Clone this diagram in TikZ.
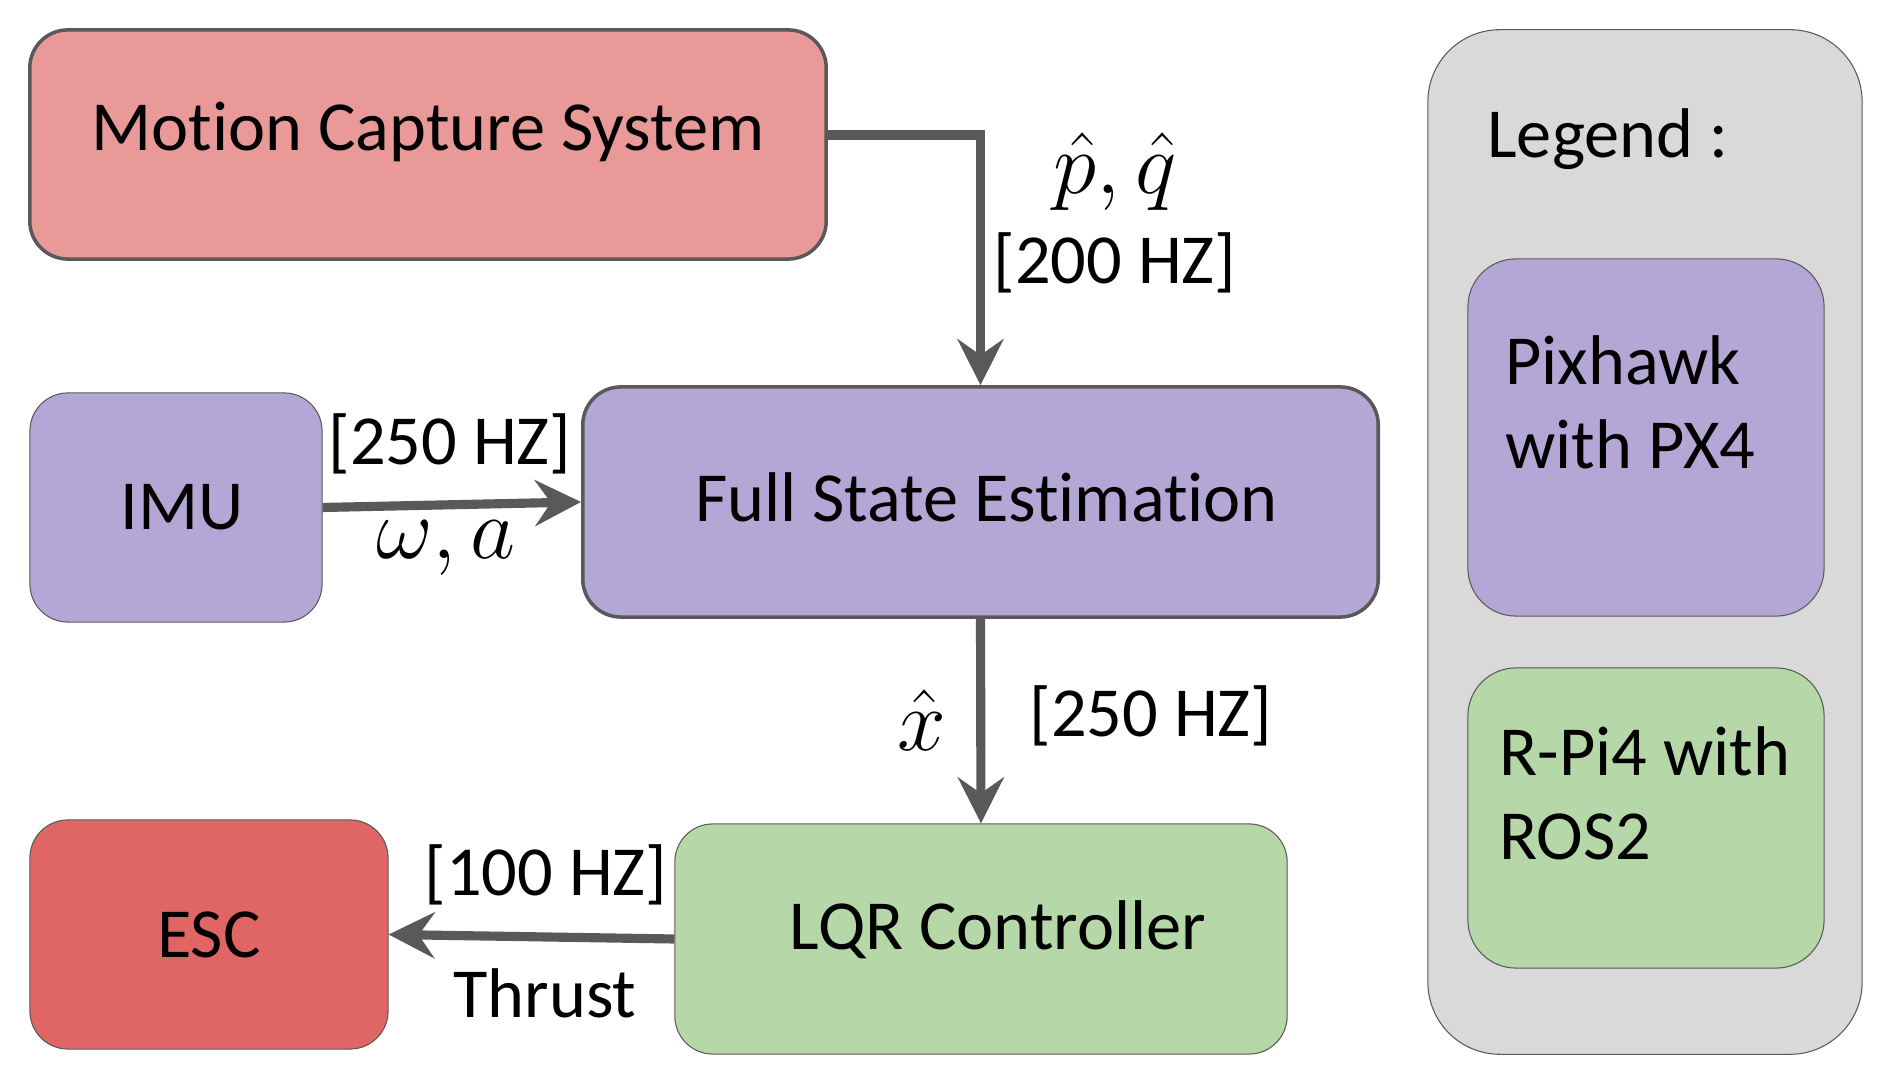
\documentclass[tikz,border=0pt]{standalone}
\usepackage{fontspec}
\setmainfont{Carlito}[Ligatures=NoCommon]
\usetikzlibrary{arrows.meta}
\definecolor{mocap}{HTML}{EA9999}
\definecolor{pixpurple}{HTML}{B4A7D6}
\definecolor{escred}{HTML}{E06666}
\definecolor{rpigreen}{HTML}{B6D7A8}
\definecolor{legendgray}{HTML}{D9D9D9}
\definecolor{edgegray}{HTML}{595959}
\begin{document}
\begin{tikzpicture}[x=0.01cm, y=-0.01cm,
    every node/.style={font=\fontsize{20}{24}\selectfont},
    blk/.style={draw=edgegray, line width=0.3pt, rounded corners=3.8mm, inner sep=0pt},
    thickblk/.style={blk, line width=1pt},
    flow/.style={draw=edgegray, line width=2.6pt, -{Stealth[length=4.6mm, width=4.6mm, inset=1.6mm]}},
    mathlbl/.style={font=\fontsize{23}{26}\selectfont}]
    \useasboundingbox (0,0) rectangle (1890,1083);
    % blocks
    \node [thickblk, fill=mocap, minimum width=79.6mm, minimum height=22.9mm, text depth=3.6mm] (mcs) at (428,144.5) {Motion Capture System};
    \node [blk, fill=pixpurple, minimum width=29.2mm, minimum height=22.9mm] (imu) at (176,507.5) {\hspace{1.2mm}IMU};
    \node [thickblk, fill=pixpurple, minimum width=79.5mm, minimum height=23mm, text depth=1mm] (fse) at (980.5,502) {\hspace{1.2mm}Full State Estimation};
    \node [blk, fill=escred, minimum width=35.8mm, minimum height=22.9mm] (esc) at (209,934.5) {ESC};
    \node [blk, fill=rpigreen, minimum width=61.2mm, minimum height=23mm, text depth=2.8mm] (lqr) at (981,939) {\hspace{3.4mm}LQR Controller};
    % legend
    \node [blk, fill=legendgray, rounded corners=7.2mm, minimum width=43.4mm, minimum height=102.4mm] (legend) at (1645,542) {};
    \node [anchor=west] (legendtitle) at (1475,139) {Legend :};
    \node [blk, fill=pixpurple, rounded corners=4.8mm, minimum width=35.6mm, minimum height=35.7mm] (pix) at (1646,437.5) {};
    \node [anchor=north west, align=left] (pixtext) at (1493,323) {Pixhawk\\with PX4};
    \node [blk, fill=rpigreen, rounded corners=4.8mm, minimum width=35.6mm, minimum height=30mm] (rpi) at (1646,818) {};
    \node [anchor=north west, align=left] (rpitext) at (1487,714) {R-Pi4 with\\ROS2};
    % connectors
    \draw [flow] ([yshift=0.95mm]mcs.east) -| (fse.north);
    \draw [flow] (imu.east) -- (fse.west);
    \draw [flow] (fse.south) -- (lqr.north);
    \draw [flow] (lqr.west) -- (esc.east);
    % labels
    \node [mathlbl] (pqlbl) at (1115,172) {$\hat{p},\hat{q}$};
    \node (mcsrate) at (1115,263) {[200 HZ]};
    \node (imurate) at (450,444) {[250 HZ]};
    \node [mathlbl] (imulbl) at (446,548) {$\omega,a$};
    \node [mathlbl] (xlbl) at (922,720) {$\hat{x}$};
    \node (fserate) at (1151,716) {[250 HZ]};
    \node (lqrrate) at (546,875) {[100 HZ]};
    \node (thrustlbl) at (545,993) {Thrust};
\end{tikzpicture}
\end{document}
